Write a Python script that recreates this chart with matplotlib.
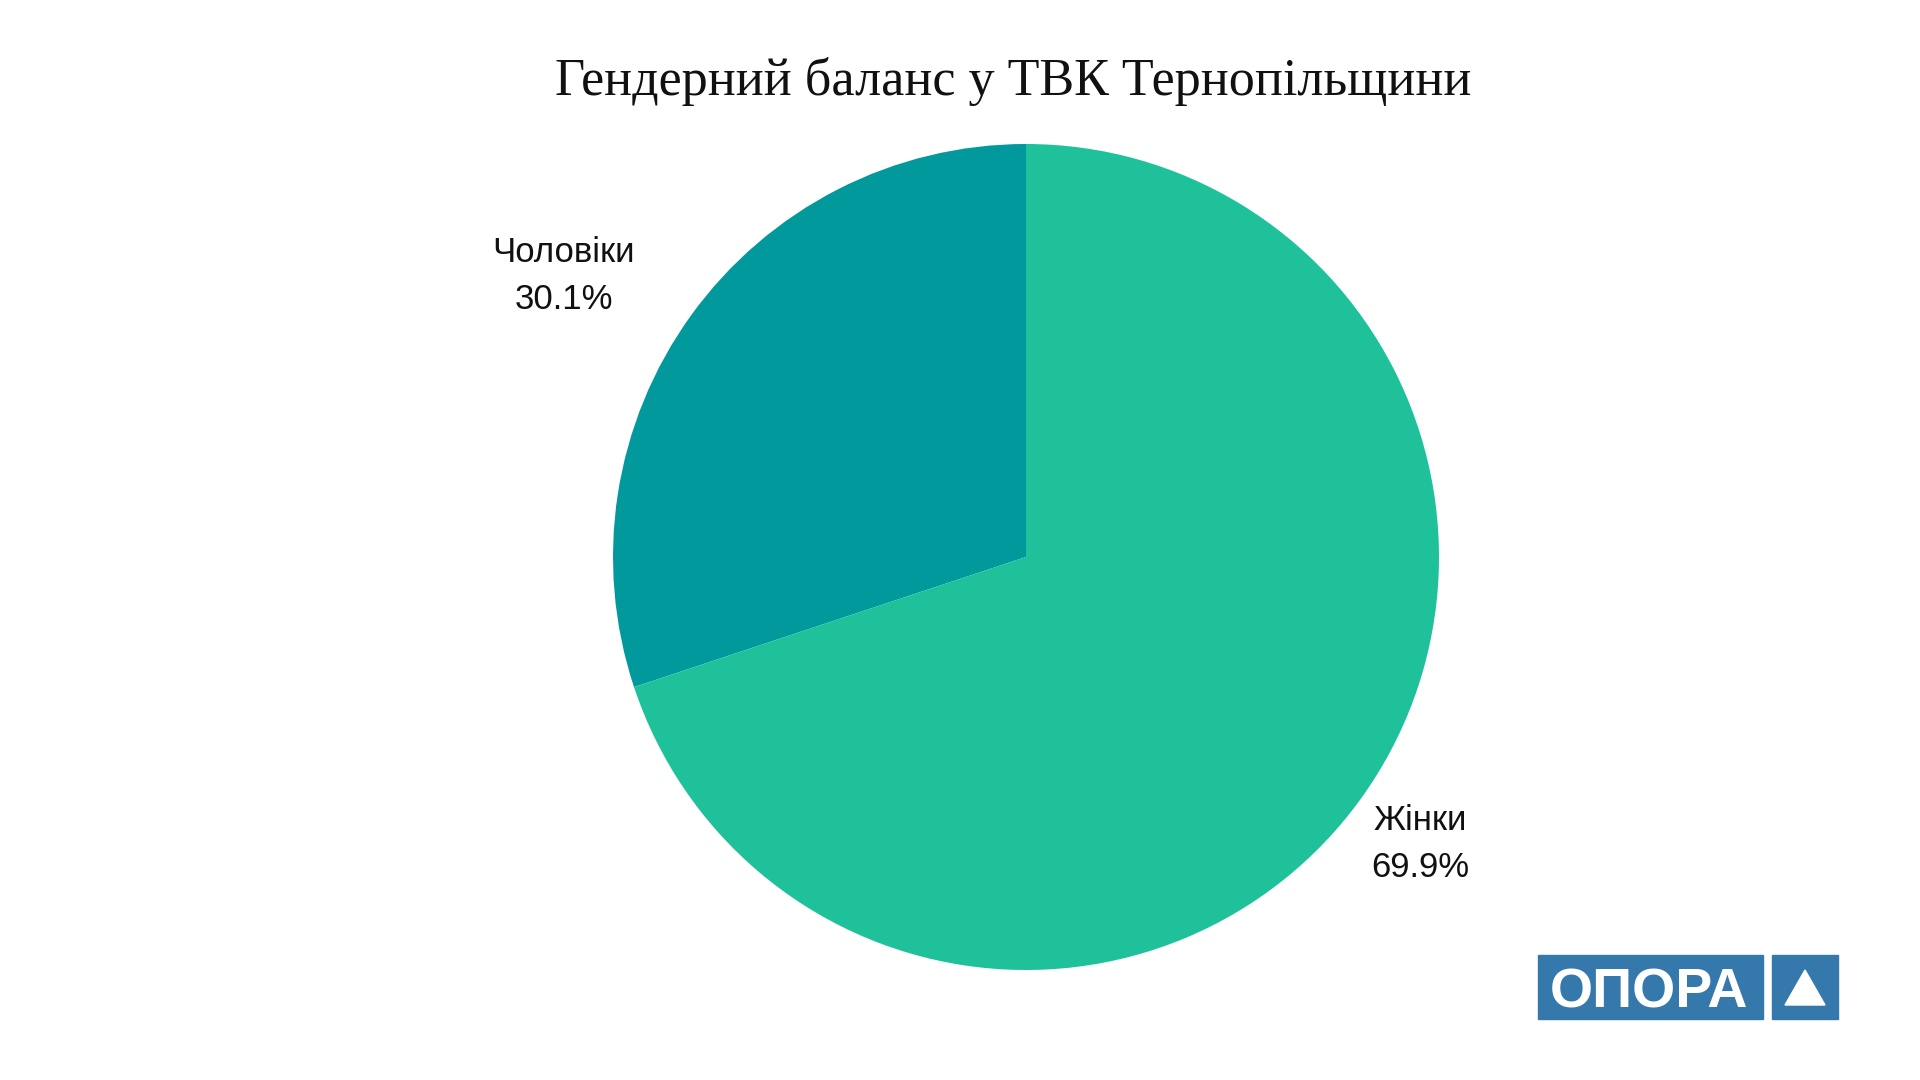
import matplotlib
matplotlib.use("Agg")
import matplotlib.pyplot as plt
from matplotlib.patches import Rectangle, Polygon

labels = ["Чоловіки", "Жінки"]
shares = [30.1, 69.9]
colors = ["#02999D", "#1FC19B"]

# label block centres, in pie-radius units from the centre
label_xy = [(-1.12, 0.68), (0.954, -0.695)]

W, H = 1920, 1080
fig = plt.figure(figsize=(19.2, 10.8), dpi=100)
fig.patch.set_facecolor("white")

# pie centre (1026, 557) px, radius 413 px
cx, cy, r = 1026, 557, 413
ax = fig.add_axes([(cx - r) / W, (H - cy - r) / H, 2 * r / W, 2 * r / H])
wedges, _ = ax.pie(shares, colors=colors, startangle=90, counterclock=True,
                   radius=1, wedgeprops=dict(linewidth=0))
ax.set_xlim(-1, 1)
ax.set_ylim(-1, 1)
ax.set_axis_off()

for lab, val, (x, y) in zip(labels, shares, label_xy):
    ax.text(x, y, f"{lab}\n{val:.1f}%", ha="center", va="center",
            fontsize=25, family="Liberation Sans", color="#111111",
            linespacing=1.55, clip_on=False)

fig.text(1013 / W, 1 - 82 / H, "Гендерний баланс у ТВК Тернопільщини",
         ha="center", va="center", fontsize=37.5, family="Liberation Serif",
         color="#111111")

# logo
blue = "#3478AC"
fig.patches.append(Rectangle((1538 / W, 1 - 1019 / H), 225 / W, 64 / H,
                             transform=fig.transFigure, color=blue))
fig.patches.append(Rectangle((1772 / W, 1 - 1019 / H), 66 / W, 64 / H,
                             transform=fig.transFigure, color=blue))
fig.text(1649 / W, 1 - 993 / H, "ОПОРА", ha="center", va="center",
         fontsize=40, fontweight="bold", family="Liberation Sans", color="white")
fig.patches.append(Polygon([(1785 / W, 1 - 1005 / H), (1825 / W, 1 - 1005 / H),
                            (1805 / W, 1 - 970 / H)],
                           transform=fig.transFigure, color="white"))

fig.savefig("out.png", dpi=100, facecolor="white")
